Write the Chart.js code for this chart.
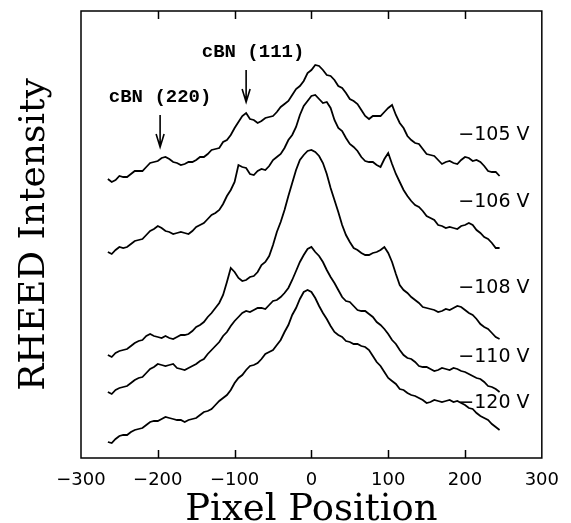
<!DOCTYPE html>
<html>
<head>
<meta charset="utf-8">
<script src="https://cdn.jsdelivr.net/npm/chart.js@4.4.0/dist/chart.umd.min.js"></script>
<style>
  html, body { margin: 0; padding: 0; background: #fff; }
  canvas { display: block; }
</style>
</head>
<body>
<canvas id="rheed" width="571" height="523"></canvas>
<script>
// pixel position of each sample (shared by all traces)
const pixelPos = [-265, -260, -255, -250, -245, -240, -235, -230, -225, -220,
    -215, -210, -205, -200, -195, -190, -185, -180, -175, -170,
    -165, -160, -155, -150, -145, -140, -135, -130, -125, -120,
    -115, -110, -105, -100, -95, -90, -85, -80, -75, -70,
    -65, -60, -55, -50, -45, -40, -35, -30, -25, -20,
    -15, -10, -5, 0, 5, 10, 15, 20, 25, 30,
    35, 40, 45, 50, 55, 60, 65, 70, 75, 80,
    85, 90, 95, 100, 105, 110, 115, 120, 125, 130,
    135, 140, 145, 150, 155, 160, 165, 170, 175, 180,
    185, 190, 195, 200, 205, 210, 215, 220, 225, 230,
    235, 240, 245];

// RHEED intensity (arb. units, traces offset)
const v105 = [279, 276, 278, 282, 281, 281, 284, 287, 287, 287,
    291, 295, 296, 297, 300, 301, 299, 296, 295, 293,
    294, 296, 296, 298, 301, 301, 304, 308, 309, 310,
    316, 318, 323, 330, 336, 342, 345, 339, 338, 335,
    337, 340, 341, 342, 346, 351, 354, 357, 363, 369,
    372, 377, 385, 388, 393, 392, 388, 383, 382, 378,
    372, 370, 365, 359, 357, 354, 348, 342, 339, 342,
    342, 342, 346, 350, 353, 343, 335, 330, 322, 318,
    315, 314, 309, 304, 303, 302, 298, 294, 296, 297,
    295, 294, 298, 301, 300, 297, 298, 296, 292, 287,
    286, 286, 282];
const v106 = [206, 204, 208, 211, 210, 211, 214, 217, 218, 219,
    223, 227, 229, 232, 230, 227, 226, 224, 225, 226,
    225, 224, 227, 231, 233, 235, 239, 243, 245, 248,
    254, 262, 268, 276, 293, 291, 290, 284, 283, 287,
    289, 288, 292, 298, 301, 304, 310, 318, 323, 331,
    343, 352, 357, 362, 363, 359, 355, 356, 350, 338,
    330, 327, 320, 314, 311, 307, 301, 297, 296, 296,
    293, 291, 299, 305, 294, 284, 276, 268, 262, 257,
    253, 251, 247, 242, 240, 238, 233, 232, 230, 231,
    230, 229, 232, 233, 235, 233, 228, 225, 221, 219,
    215, 210, 210];
const v108 = [103, 101, 105, 107, 108, 109, 112, 115, 117, 118,
    122, 124, 122, 121, 120, 122, 120, 119, 121, 123,
    123, 124, 127, 131, 133, 136, 141, 145, 150, 155,
    163, 176, 190, 186, 180, 177, 178, 181, 182, 186,
    193, 196, 202, 213, 226, 236, 248, 262, 275, 288,
    298, 303, 307, 308, 306, 302, 295, 284, 270, 258,
    246, 233, 223, 216, 210, 208, 205, 203, 203, 205,
    206, 208, 211, 205, 196, 184, 173, 168, 165, 161,
    158, 155, 151, 150, 149, 148, 146, 147, 149, 148,
    150, 152, 151, 148, 145, 143, 139, 134, 131, 129,
    125, 121, 119];
const v110 = [66, 64, 68, 70, 71, 72, 75, 78, 80, 81,
    85, 89, 91, 94, 93, 92, 93, 94, 90, 89,
    88, 90, 92, 94, 97, 99, 104, 108, 112, 116,
    122, 126, 132, 137, 141, 145, 147, 146, 148, 150,
    150, 149, 153, 157, 158, 161, 165, 170, 178, 187,
    196, 203, 209, 211, 206, 202, 196, 188, 181, 175,
    168, 161, 157, 156, 152, 148, 147, 147, 144, 141,
    136, 133, 129, 124, 118, 114, 108, 103, 100, 99,
    96, 92, 91, 91, 89, 87, 88, 90, 89, 88,
    90, 89, 87, 86, 84, 82, 80, 79, 76, 72,
    71, 69, 66];
const v120 = [16, 15, 19, 22, 23, 23, 26, 28, 29, 30,
    33, 36, 37, 37, 39, 41, 40, 39, 38, 38,
    36, 38, 39, 40, 43, 46, 47, 49, 53, 57,
    60, 63, 68, 75, 80, 83, 88, 92, 93, 95,
    99, 104, 106, 108, 113, 118, 126, 133, 143, 150,
    159, 166, 168, 166, 160, 152, 145, 139, 132, 126,
    123, 121, 117, 116, 114, 114, 112, 111, 108, 102,
    96, 92, 86, 80, 77, 74, 69, 68, 65, 63,
    62, 60, 58, 55, 56, 58, 57, 56, 57, 58,
    56, 57, 55, 53, 50, 49, 45, 42, 40, 38,
    34, 31, 28];

const seriesNames = ['\u2212105 V', '\u2212106 V', '\u2212108 V', '\u2212110 V', '\u2212120 V'];
const seriesData = [v105, v106, v108, v110, v120];
const nameX = 284;
const nameY = [323, 256, 170, 101, 55];

const xTickValues = [-300, -200, -100, 0, 100, 200, 300];

const peakNames = ['cBN (220)', 'cBN (111)'];
const peakX = [-197, -85];
const peakTextX = [-197, -76];
const peakTextY = [361, 406];
const arrowTop = [343, 388];
const arrowTip = [311, 356];

function toPoints(ys) {
    return ys.map((y, i) => ({ x: pixelPos[i], y: y }));
}

const framePlugin = {
    id: 'frame',
    afterDatasetsDraw(chart) {
        const ctx = chart.ctx;
        const a = chart.chartArea;
        const xs = chart.scales.x;
        const ys = chart.scales.y;
        ctx.save();
        ctx.strokeStyle = '#000';
        ctx.lineWidth = 1.5;
        ctx.strokeRect(a.left, a.top, a.right - a.left, a.bottom - a.top);

        // ticks point into the plot, top and bottom
        xTickValues.forEach(v => {
            if (v <= xs.min || v >= xs.max) return;
            const px = Math.round(xs.getPixelForValue(v)) + 0.5;
            ctx.beginPath();
            ctx.moveTo(px, a.bottom);
            ctx.lineTo(px, a.bottom - 8);
            ctx.moveTo(px, a.top);
            ctx.lineTo(px, a.top + 8);
            ctx.stroke();
        });

        ctx.fillStyle = '#000';
        ctx.font = '19px "DejaVu Sans"';
        ctx.textAlign = 'right';
        ctx.textBaseline = 'middle';
        seriesNames.forEach((n, i) => {
            ctx.fillText(n, xs.getPixelForValue(nameX), ys.getPixelForValue(nameY[i]));
        });

        ctx.font = 'bold 19px "Liberation Mono"';
        ctx.textAlign = 'center';
        ctx.lineWidth = 1.6;
        peakNames.forEach((n, i) => {
            ctx.fillText(n, xs.getPixelForValue(peakTextX[i]), ys.getPixelForValue(peakTextY[i]));
            const px = xs.getPixelForValue(peakX[i]);
            const y0 = ys.getPixelForValue(arrowTop[i]);
            const y1 = ys.getPixelForValue(arrowTip[i]);
            ctx.beginPath();
            ctx.moveTo(px, y0);
            ctx.lineTo(px, y1);
            ctx.moveTo(px - 4, y1 - 13);
            ctx.lineTo(px, y1);
            ctx.lineTo(px + 4, y1 - 13);
            ctx.stroke();
        });
        ctx.restore();
    }
};

const ctx = document.getElementById('rheed').getContext('2d');
new Chart(ctx, {
    type: 'line',
    data: {
        datasets: seriesData.map((d, i) => ({
            label: seriesNames[i],
            data: toPoints(d),
            borderColor: '#000',
            borderWidth: 1.8,
            pointRadius: 0,
            tension: 0,
            fill: false
        }))
    },
    options: {
        responsive: false,
        animation: false,
        layout: { padding: { left: 0, right: 26, top: 11, bottom: 0 } },
        plugins: { legend: { display: false }, tooltip: { enabled: false } },
        scales: {
            x: {
                type: 'linear',
                min: -300,
                max: 300,
                afterBuildTicks: (scale) => { scale.ticks = xTickValues.map(v => ({ value: v })); },
                afterFit: (scale) => { scale.height = 65; },
                grid: { display: false, drawTicks: false },
                border: { display: false },
                ticks: {
                    maxRotation: 0,
                    autoSkip: false,
                    padding: 12,
                    color: '#000',
                    font: { family: 'DejaVu Sans', size: 18 },
                    callback: (v) => String(v).replace('-', '\u2212')
                },
                title: {
                    display: true,
                    text: 'Pixel Position',
                    color: '#000',
                    font: { family: 'DejaVu Serif', size: 37, lineHeight: 1 },
                    padding: { top: 0, bottom: -6 }
                }
            },
            y: {
                type: 'linear',
                min: 0,
                max: 447,
                afterFit: (scale) => { scale.width = 81; },
                grid: { display: false, drawTicks: false },
                border: { display: false },
                ticks: { display: false },
                title: {
                    display: true,
                    text: 'RHEED Intensity',
                    color: '#000',
                    font: { family: 'DejaVu Serif', size: 36, lineHeight: 1 },
                    padding: { top: 17, bottom: 0 }
                }
            }
        }
    },
    plugins: [framePlugin]
});
</script>
</body>
</html>
